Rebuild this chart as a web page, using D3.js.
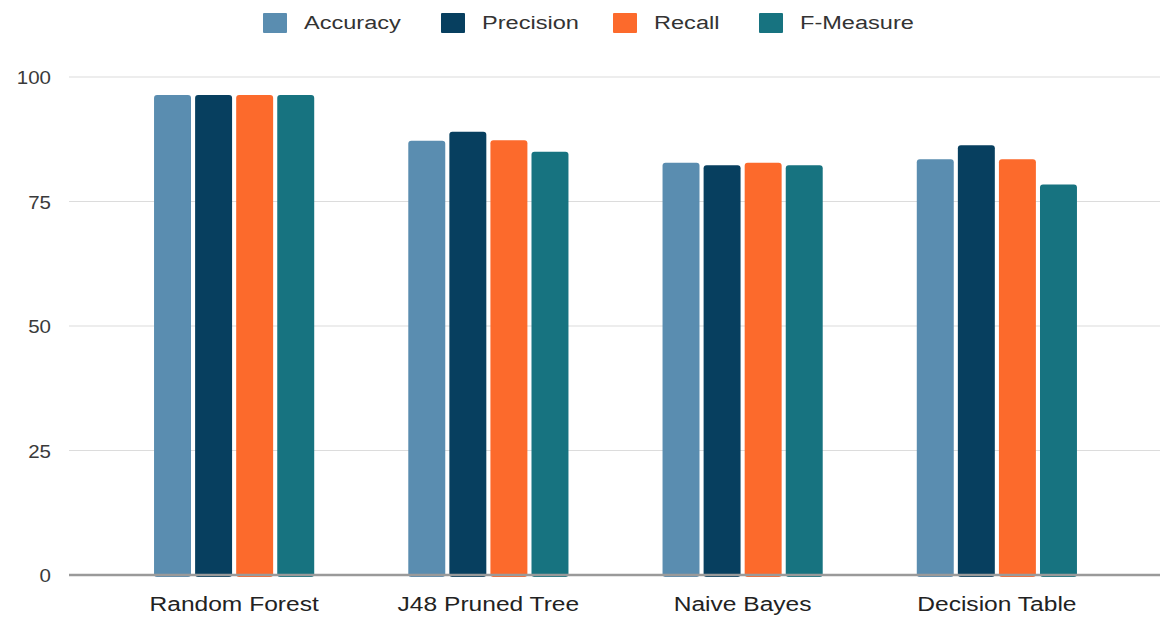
<!DOCTYPE html>
<html>
<head>
<meta charset="utf-8">
<script src="https://cdn.jsdelivr.net/npm/d3@7"></script>
<style>
  body { margin: 0; background: #fff; }
  text { font-family: "Liberation Sans", Arial, sans-serif; }
</style>
</head>
<body>
<div id="chart"></div>
<script>
// data
const categories = ["Random Forest", "J48 Pruned Tree", "Naive Bayes", "Decision Table"];
const seriesNames = ["Accuracy", "Precision", "Recall", "F-Measure"];
const accuracy  = [96.4, 87.2, 82.8, 83.5];
const precision = [96.4, 89.0, 82.3, 86.3];
const recall    = [96.4, 87.3, 82.8, 83.5];
const fMeasure  = [96.4, 85.0, 82.3, 78.4];
const yTicks = [0, 25, 50, 75, 100];

const colors = ["#5a8db0", "#073f5f", "#fc6a2c", "#177380"];
const seriesValues = [accuracy, precision, recall, fMeasure];

const width = 1167, height = 620;

const svg = d3.select("#chart").append("svg")
  .attr("width", width)
  .attr("height", height);

const y = d3.scaleLinear().domain([0, 100]).range([575, 77]);

const x0 = d3.scaleBand()
  .domain(categories)
  .range([107, 1124])
  .paddingInner(0.37)
  .paddingOuter(0.185);

const x1 = d3.scaleBand()
  .domain(seriesNames)
  .range([0, x0.bandwidth()])
  .paddingInner(0.1)
  .paddingOuter(0);

// gridlines
svg.append("g")
  .selectAll("line")
  .data(yTicks.filter(d => d > 0))
  .enter()
  .append("line")
  .attr("x1", 69)
  .attr("x2", 1160)
  .attr("y1", d => y(d))
  .attr("y2", d => y(d))
  .attr("stroke", "#dcdcdc")
  .attr("stroke-width", 1.2);

// y tick labels (picture is a bit stretched sideways, hence the scale)
svg.append("g")
  .selectAll("text")
  .data(yTicks)
  .enter()
  .append("text")
  .attr("transform", d => "translate(51," + (y(d) + 7) + ") scale(1.08,1)")
  .attr("text-anchor", "end")
  .attr("font-size", "19px")
  .attr("fill", "#3a3a3a")
  .text(d => d);

// bars
const rows = categories.map((c, i) => ({
  cat: c,
  vals: seriesNames.map((s, j) => ({ name: s, value: seriesValues[j][i], color: colors[j] }))
}));

const groups = svg.append("g")
  .selectAll("g")
  .data(rows)
  .enter()
  .append("g")
  .attr("transform", d => "translate(" + x0(d.cat) + ",0)");

groups.selectAll("rect")
  .data(d => d.vals)
  .enter()
  .append("rect")
  .attr("x", d => x1(d.name))
  .attr("y", d => y(d.value))
  .attr("width", x1.bandwidth())
  .attr("height", d => y(0) - y(d.value) + 2)
  .attr("rx", 3)
  .attr("fill", d => d.color);

// baseline
svg.append("line")
  .attr("x1", 69)
  .attr("x2", 1160)
  .attr("y1", y(0))
  .attr("y2", y(0))
  .attr("stroke", "#9a9a9a")
  .attr("stroke-width", 2.5);

// x labels
svg.append("g")
  .selectAll("text")
  .data(categories)
  .enter()
  .append("text")
  .attr("transform", d => "translate(" + (x0(d) + x0.bandwidth() / 2) + ",611) scale(1.17,1)")
  .attr("text-anchor", "middle")
  .attr("font-size", "21px")
  .attr("fill", "#222")
  .text(d => d);

// legend
const legendX = [263, 441, 613, 759];
const legend = svg.append("g")
  .selectAll("g")
  .data(seriesNames)
  .enter()
  .append("g")
  .attr("transform", (d, i) => "translate(" + legendX[i] + ",0)");

legend.append("rect")
  .attr("x", 0)
  .attr("y", 13)
  .attr("width", 24)
  .attr("height", 20)
  .attr("rx", 1)
  .attr("fill", (d, i) => colors[i]);

legend.append("text")
  .attr("transform", "translate(41,29) scale(1.24,1)")
  .attr("font-size", "19px")
  .attr("fill", "#333")
  .text(d => d);
</script>
</body>
</html>
